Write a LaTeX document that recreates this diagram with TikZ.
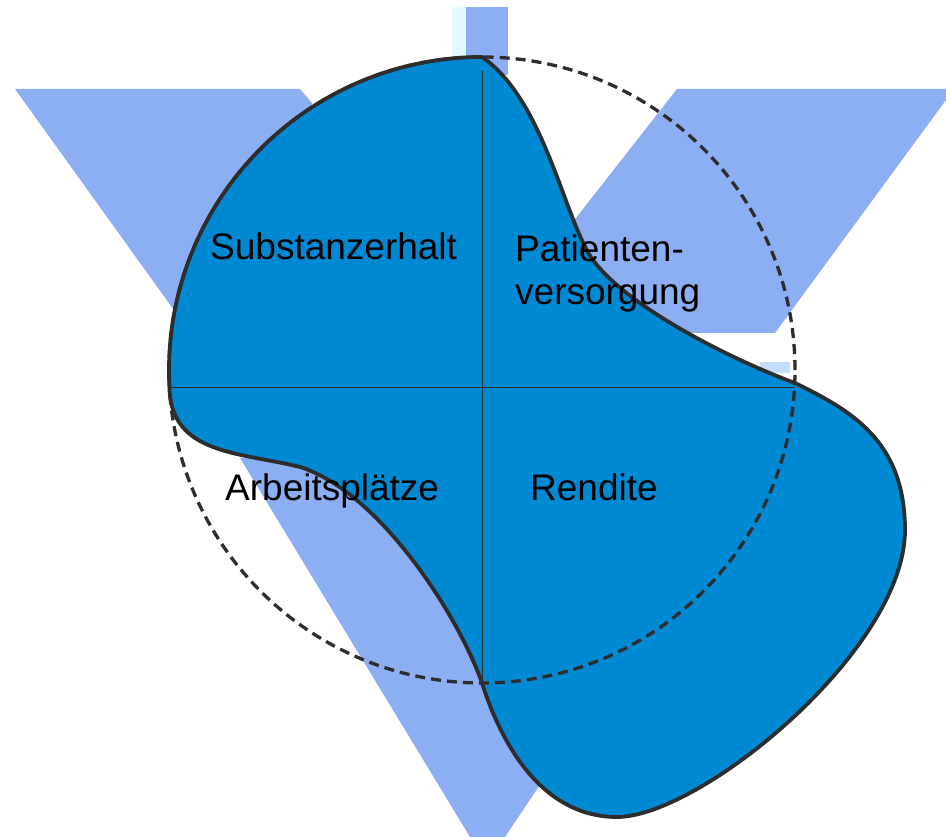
\documentclass[tikz,border=0pt]{standalone}
\usepackage{fontspec}
\setmainfont{Liberation Sans}
\definecolor{bgblue}{RGB}{140,174,242}
\definecolor{bgpale}{RGB}{224,250,255}
\definecolor{bglight}{RGB}{196,222,255}
\definecolor{blobblue}{RGB}{0,137,211}
\definecolor{edgegray}{RGB}{45,45,45}
\tikzset{
  bgshape/.style={fill=bgblue, draw=none},
  blob/.style={fill=blobblue, draw=edgegray, line width=3.8pt, line join=round},
  axisline/.style={draw=edgegray, line width=1pt},
  refcircle/.style={draw=edgegray, line width=3.3pt, dash pattern=on 10pt off 6pt},
  lbl/.style={font=\fontsize{37}{43}\selectfont, text=black, inner sep=0pt, anchor=base west}
}
\begin{document}
\begin{tikzpicture}[x=1pt,y=-1pt]
\useasboundingbox (0,0) rectangle (946,837);
% background symbol
\fill[bgpale] (452,7) rectangle (466,62);
\fill[bgblue] (466,7) rectangle (508,75);
\path[bgshape] (15,89) -- (300,89) -- (312,103) -- (300,200) -- (217,370) -- cycle;
\path[bgshape] (677,89) -- (946,89) -- (946,100) -- (775,333) -- (640,333) -- (543,260) -- cycle;
\path[bgshape] (240,458) -- (470,837) -- (505,837) -- (570,740) -- (470,560) -- (340,455) -- cycle;
\fill[bglight] (760,362) rectangle (790,373);
% blob
\path[blob] (482,57) arc[start angle=90, end angle=183, radius=313pt]
  .. controls (170,455) and (240,452) .. (300,467)
  .. controls (380,492) and (459,617) .. (482,683)
  .. controls (500,740) and (540,817) .. (617,817)
  .. controls (700,817) and (905,650) .. (905,530)
  .. controls (905,440) and (850,410) .. (795,383)
  .. controls (740,363) and (630,310) .. (593,260)
  .. controls (565,222) and (545,100) .. (482,57)
  -- cycle;
% axes
\coordinate (hl) at (170,387);
\coordinate (hr) at (795,387);
\coordinate (vt) at (482,71);
\coordinate (vb) at (482,683);
\draw[axisline] (hl) -- (hr);
\draw[axisline] (vt) -- (vb);
% dashed reference circle
\coordinate (cc) at (482,370);
\draw[refcircle] (cc) circle[radius=313pt];
% labels
\node[lbl] (subst) at (210,260) {Substanzerhalt};
\node[lbl] (pat) at (515,262) {Patienten-};
\node[lbl] (vers) at (515,305) {versorgung};
\node[lbl] (arb) at (225,500) {Arbeitsplätze};
\node[lbl] (rend) at (530,500) {Rendite};
\end{tikzpicture}
\end{document}
